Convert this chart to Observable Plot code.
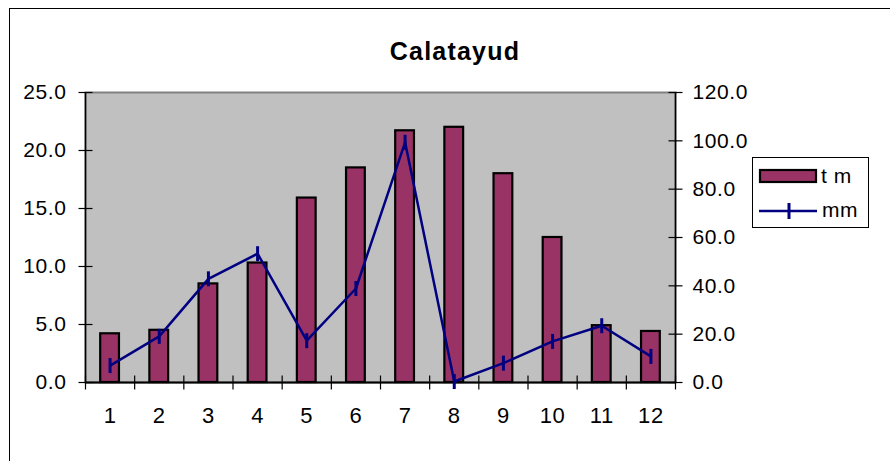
<!DOCTYPE html>
<html>
<head>
<meta charset="utf-8">
<script src="https://cdn.jsdelivr.net/npm/d3@7"></script>
<script src="https://cdn.jsdelivr.net/npm/@observablehq/plot@0.6"></script>
<style>
  html, body { margin: 0; padding: 0; background: #fff; }
  #wrap { position: relative; width: 890px; height: 461px; overflow: hidden; font-family: 'Liberation Sans', Arial, sans-serif; }
  #border { position: absolute; left: 9px; top: 8px; width: 900px; height: 470px; border: 1px solid #000; box-sizing: border-box; }
  #title { position: relative; height: 70px; box-sizing: border-box; padding-top: 39px; padding-left: 20px; width: 890px; text-align: center; font-weight: bold; font-size: 25px; line-height: 25px; letter-spacing: 1.2px; color: #000; }
  #chart { position: relative; }
  #legend { position: absolute; left: 752px; top: 157px; }
</style>
</head>
<body>
<div id="wrap">
  <div id="border"></div>
  <div id="title">Calatayud</div>
  <div id="chart"></div>
  <div id="legend"></div>
</div>
<script>
const months = [1, 2, 3, 4, 5, 6, 7, 8, 9, 10, 11, 12];
const tm = [4.2, 4.5, 8.5, 10.3, 15.9, 18.5, 21.7, 22.0, 18.0, 12.5, 4.9, 4.4];
const mm = [7.0, 19.1, 42.9, 53.3, 17.3, 38.9, 99.4, 0.4, 8.0, 17.0, 23.5, 10.8];
const leftTicks = [0, 5, 10, 15, 20, 25];
const rightTicks = [0, 20, 40, 60, 80, 100, 120];
const seriesNames = ["t m", "mm"];

const k = 25 / 120;
const data = months.map((m, i) => ({m, tm: tm[i], mm: mm[i]}));
const boundaries = months.map(m => m - 0.5).concat([months[months.length - 1] + 0.5]);

const vline = {draw(ctx, size) { const r = Math.sqrt(size / Math.PI); ctx.moveTo(0, -r); ctx.lineTo(0, r); }};
const hline = {draw(ctx, size) { const r = Math.sqrt(size / Math.PI); ctx.moveTo(-r, 0); ctx.lineTo(r, 0); }};

const chart = Plot.plot({
  width: 890,
  height: 391,
  marginLeft: 85,
  marginRight: 215,
  marginTop: 22,
  marginBottom: 79,
  style: {fontFamily: "'Liberation Sans', Arial, sans-serif", fontSize: "21px", color: "#000", background: "transparent", letterSpacing: "0.6px"},
  x: {domain: [0.5, 12.5], axis: null},
  y: {domain: [0, 25], axis: null},
  marks: [
    Plot.frame({fill: "#c0c0c0", stroke: "#808080", strokeWidth: 2}),
    Plot.rectY(data, {x1: d => d.m - 0.5, x2: d => d.m + 0.5, y1: 0, y2: "tm", insetLeft: 15.2, insetRight: 15.2, fill: "#993366", stroke: "#000", strokeWidth: 2.2}),
    Plot.ruleX([0.5, 12.5], {stroke: "#000", strokeWidth: 1.5}),
    Plot.ruleY([0], {stroke: "#000", strokeWidth: 2}),
    Plot.dot(boundaries, {x: d => d, y: 0, symbol: vline, r: 7, stroke: "#000", strokeWidth: 1.2}),
    Plot.dot(leftTicks, {x: 0.5, y: d => d, symbol: hline, r: 7, stroke: "#000", strokeWidth: 1.2}),
    Plot.dot(rightTicks, {x: 12.5, y: d => d * k, symbol: hline, r: 7, stroke: "#000", strokeWidth: 1.2}),
    Plot.axisY(leftTicks, {anchor: "left", tickSize: 0, tickPadding: 19, label: null, tickFormat: d => d.toFixed(1)}),
    Plot.axisY(rightTicks.map(v => v * k), {anchor: "right", tickSize: 0, tickPadding: 17, label: null, tickFormat: d => (d / k).toFixed(1)}),
    Plot.axisX(months, {anchor: "bottom", tickSize: 0, tickPadding: 25, label: null, fontSize: 22, tickFormat: d => String(d)}),
    Plot.line(data, {x: "m", y: d => d.mm * k, stroke: "#000080", strokeWidth: 2.5}),
    Plot.dot(data, {x: "m", y: d => d.mm * k, symbol: vline, r: 7.5, stroke: "#000080", strokeWidth: 3})
  ]
});
document.getElementById("chart").appendChild(chart);

// Legend
const leg = d3.select("#legend").append("svg").attr("width", 118).attr("height", 72)
  .style("font-family", "'Liberation Sans', Arial, sans-serif").style("font-size", "21px").style("letter-spacing", "0.6px");
leg.append("rect").attr("x", 0.5).attr("y", 0.5).attr("width", 116).attr("height", 70).attr("fill", "#fff").attr("stroke", "#000").attr("stroke-width", 1);
leg.append("rect").attr("x", 8).attr("y", 13).attr("width", 56).attr("height", 12).attr("fill", "#993366").attr("stroke", "#000").attr("stroke-width", 2.2);
leg.append("text").attr("x", 69).attr("y", 26).text(seriesNames[0]);
leg.append("line").attr("x1", 7).attr("x2", 65).attr("y1", 54).attr("y2", 54).attr("stroke", "#000080").attr("stroke-width", 2.5);
leg.append("line").attr("x1", 37).attr("x2", 37).attr("y1", 46).attr("y2", 62).attr("stroke", "#000080").attr("stroke-width", 3);
leg.append("text").attr("x", 70).attr("y", 60).text(seriesNames[1]);
</script>
</body>
</html>
